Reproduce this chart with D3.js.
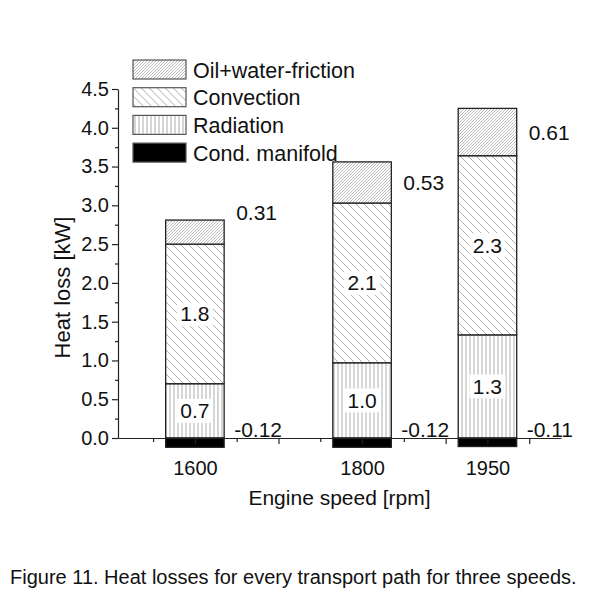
<!DOCTYPE html>
<html>
<head>
<meta charset="utf-8">
<script src="https://cdn.jsdelivr.net/npm/d3@7"></script>
<style>
  body { margin: 0; background: #fff; }
  svg text { font-family: "Liberation Sans", Arial, sans-serif; fill: #111; }
</style>
</head>
<body>
<div id="chart"></div>
<script>
const speeds = [1600, 1800, 1950];
const manifold = [-0.12, -0.12, -0.11];
const radiation = [0.7, 0.97, 1.33];
const convection = [1.8, 2.06, 2.31];
const oilFriction = [0.31, 0.53, 0.61];
const legendNames = ['Oil+water-friction', 'Convection', 'Radiation', 'Cond. manifold'];
const yTicks = [0, 0.5, 1, 1.5, 2, 2.5, 3, 3.5, 4, 4.5];

const width = 603;
const height = 609;
const barWidthRpm = 70;

const svg = d3.select('#chart')
  .append('svg')
  .attr('width', width)
  .attr('height', height);

// patterns
const defs = svg.append('defs');

const oilPat = defs.append('pattern')
  .attr('id', 'oil')
  .attr('patternUnits', 'userSpaceOnUse')
  .attr('width', 3).attr('height', 3);
oilPat.append('rect').attr('width', 3).attr('height', 3).attr('fill', '#fff');
oilPat.append('path')
  .attr('d', 'M0,3 L3,0 M-1,1 L1,-1 M2,4 L4,2')
  .attr('stroke', '#aaa').attr('stroke-width', 0.8);

const convPat = defs.append('pattern')
  .attr('id', 'conv')
  .attr('patternUnits', 'userSpaceOnUse')
  .attr('width', 8).attr('height', 8);
convPat.append('rect').attr('width', 8).attr('height', 8).attr('fill', '#fff');
convPat.append('path')
  .attr('d', 'M0,0 L8,8 M-1,7 L1,9 M7,-1 L9,1')
  .attr('stroke', '#999').attr('stroke-width', 0.8);

const radPat = defs.append('pattern')
  .attr('id', 'rad')
  .attr('patternUnits', 'userSpaceOnUse')
  .attr('width', 4).attr('height', 4);
radPat.append('rect').attr('width', 4).attr('height', 4).attr('fill', '#fff');
radPat.append('path')
  .attr('d', 'M2,0 L2,4')
  .attr('stroke', '#999').attr('stroke-width', 0.8);

const fills = ['url(#oil)', 'url(#conv)', 'url(#rad)', '#000'];

// scales
const x = d3.scaleLinear().domain([1508, 2038]).range([118, 561]);
const y = d3.scaleLinear().domain([0, 4.5]).range([438, 89]);

// stacked segments
const segments = [];
speeds.forEach((s, i) => {
  segments.push({ speed: s, y0: 0, y1: manifold[i], fill: fills[3] });
  segments.push({ speed: s, y0: 0, y1: radiation[i], fill: fills[2] });
  segments.push({ speed: s, y0: radiation[i], y1: radiation[i] + convection[i], fill: fills[1] });
  segments.push({ speed: s, y0: radiation[i] + convection[i], y1: radiation[i] + convection[i] + oilFriction[i], fill: fills[0] });
});

svg.append('g')
  .selectAll('rect')
  .data(segments)
  .join('rect')
  .attr('x', d => x(d.speed - barWidthRpm / 2))
  .attr('width', d => x(d.speed + barWidthRpm / 2) - x(d.speed - barWidthRpm / 2))
  .attr('y', d => y(Math.max(d.y0, d.y1)))
  .attr('height', d => Math.abs(y(d.y0) - y(d.y1)))
  .attr('fill', d => d.fill)
  .attr('stroke', '#222')
  .attr('stroke-width', 1.3);

// inner labels with white background
const inner = [];
speeds.forEach((s, i) => {
  inner.push({ speed: s, mid: radiation[i] / 2, text: radiation[i].toFixed(1) });
  inner.push({ speed: s, mid: radiation[i] + convection[i] / 2, text: convection[i].toFixed(1) });
});

const innerG = svg.append('g')
  .selectAll('g')
  .data(inner)
  .join('g')
  .attr('transform', d => `translate(${x(d.speed)},${y(d.mid)})`);

innerG.append('rect')
  .attr('x', -18).attr('y', -12)
  .attr('width', 36).attr('height', 24)
  .attr('fill', '#fff');

innerG.append('text')
  .text(d => d.text)
  .attr('text-anchor', 'middle')
  .attr('dy', '0.36em')
  .style('font-size', '21px');

// outside labels
const oilShift = [-20, 0, 0];
svg.append('g')
  .selectAll('text')
  .data(speeds)
  .join('text')
  .attr('x', (d, i) => x(d + barWidthRpm / 2) + 12)
  .attr('y', (d, i) => y(radiation[i] + convection[i] + oilFriction[i] / 2) + oilShift[i])
  .attr('dy', '0.36em')
  .style('font-size', '21px')
  .text((d, i) => oilFriction[i].toFixed(2));

svg.append('g')
  .selectAll('text')
  .data(speeds)
  .join('text')
  .attr('x', (d, i) => x(d + barWidthRpm / 2) + 10)
  .attr('y', y(0) - 1)
  .style('font-size', '21px')
  .text((d, i) => manifold[i].toFixed(2));

// y axis
svg.append('g')
  .attr('transform', `translate(${x.range()[0]},0)`)
  .call(d3.axisLeft(y).tickValues(yTicks).tickFormat(d3.format('.1f')).tickSize(6).tickPadding(3).tickSizeOuter(0));
svg.append('g')
  .attr('transform', `translate(${x.range()[0]},0)`)
  .call(d3.axisLeft(y).tickValues(d3.range(0.25, 4.5, 0.5)).tickFormat('').tickSize(3).tickSizeOuter(0))
  .select('.domain').remove();

// x axis
svg.append('g')
  .attr('transform', `translate(0,${y(0)})`)
  .call(d3.axisBottom(x).tickValues(speeds).tickFormat(d3.format('d')).tickSize(6).tickPadding(17).tickSizeOuter(0));
svg.append('g')
  .attr('transform', `translate(0,${y(0)})`)
  .call(d3.axisBottom(x).tickValues([1700, 1900, 2000]).tickFormat('').tickSize(6).tickSizeOuter(0))
  .select('.domain').remove();
svg.append('g')
  .attr('transform', `translate(0,${y(0)})`)
  .call(d3.axisBottom(x).tickValues([1550, 1650, 1750, 1850]).tickFormat('').tickSize(4).tickSizeOuter(0))
  .select('.domain').remove();

svg.selectAll('.tick text').style('font-size', '20px').attr('fill', '#111');
svg.selectAll('.domain, .tick line').attr('stroke', '#222').attr('stroke-width', 1.2);

// keep the black manifold segments above the axis line
svg.selectAll('rect').filter(d => d && d.fill === '#000').raise();

// axis titles
svg.append('text')
  .text('Heat loss [kW]')
  .attr('transform', `translate(70, ${y(2.25) + 24}) rotate(-90)`)
  .attr('text-anchor', 'middle')
  .style('font-size', '22px');

svg.append('text')
  .text('Engine speed [rpm]')
  .attr('x', (x.range()[0] + x.range()[1]) / 2)
  .attr('y', 505)
  .attr('text-anchor', 'middle')
  .style('font-size', '21px');

// legend
const legend = svg.append('g')
  .selectAll('g')
  .data(legendNames)
  .join('g')
  .attr('transform', (d, i) => `translate(133, ${60 + i * 27.7})`);

legend.append('rect')
  .attr('width', 53)
  .attr('height', 19)
  .attr('fill', (d, i) => fills[i])
  .attr('stroke', '#555')
  .attr('stroke-width', 1.2);

legend.append('text')
  .text(d => d)
  .attr('x', 60)
  .attr('y', 10)
  .attr('dy', '0.36em')
  .style('font-size', '21.5px');

// caption
svg.append('text')
  .text('Figure 11. Heat losses for every transport path for three speeds.')
  .attr('x', 10)
  .attr('y', 584)
  .style('font-size', '20px');
</script>
</body>
</html>
